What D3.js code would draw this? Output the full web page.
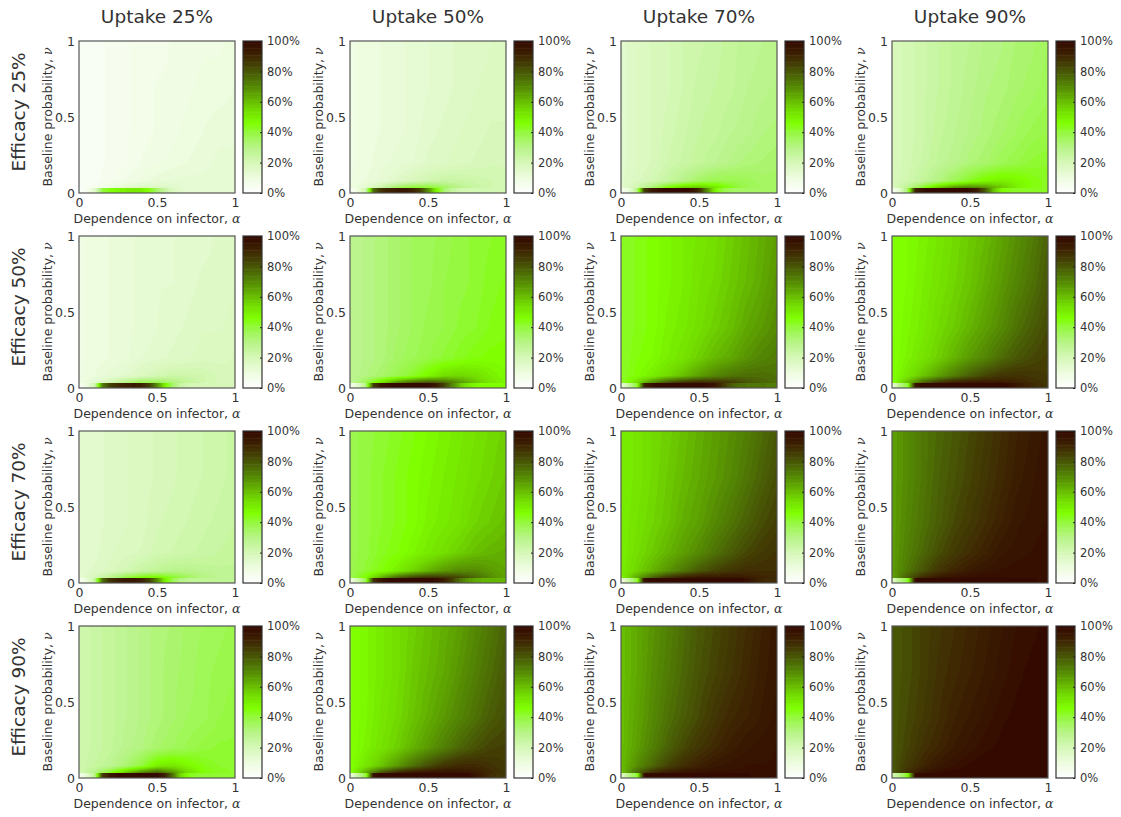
<!DOCTYPE html>
<html>
<head>
<meta charset="utf-8">
<script src="https://cdn.jsdelivr.net/npm/d3@7"></script>
<style>
  body { margin: 0; background: #fff; }
  text { font-family: "DejaVu Sans", sans-serif; fill: #333; }
  .math { font-family: "DejaVu Serif", serif; font-style: italic; }
</style>
</head>
<body>
<svg id="chart" width="1121" height="817"></svg>
<script>
// ---- labels and ticks ----
const efficacyLabels = ["Efficacy 25%", "Efficacy 50%", "Efficacy 70%", "Efficacy 90%"];
const uptakeLabels = ["Uptake 25%", "Uptake 50%", "Uptake 70%", "Uptake 90%"];
const axisTicks = [0, 0.5, 1];
const colorbarTicks = [0, 20, 40, 60, 80, 100];

// ---- grid nodes (dependence on infector α across, baseline probability ν down) ----
const alphaNodes = [0, 0.1, 0.2, 0.3, 0.4, 0.5, 0.6, 0.7, 0.8, 0.9, 1];
const nuNodes = [1.0, 0.7, 0.4, 0.2, 0.08, 0.03];
// the ν = 0 row is its own thin band, sampled more finely in α
const stripAlpha = [0, 0.05, 0.1, 0.15, 0.2, 0.25, 0.3, 0.35, 0.4, 0.45, 0.5,
                    0.55, 0.6, 0.65, 0.7, 0.75, 0.8, 0.85, 0.9, 0.95, 1];
const stripTop = 0.03;

// ---- colormap stops (percent) ----
const cmapStops = [0, 10, 20, 30, 40, 46, 55, 62, 70, 78, 85, 92, 100];
const cmapColors = ["#ffffff", "#eefce0", "#d6f8b8", "#b8f488", "#95f840", "#7fff00",
                    "#72dc00", "#64b400", "#558a04", "#4a6206", "#433e04", "#3c2002", "#330800"];
const cmapLevels = 64;

// ---- percentage values, rows follow nuNodes, columns follow alphaNodes ----
// Efficacy 25%
const field_e25_u25 = [
  [3, 4, 5, 6, 7, 7, 8, 8, 9, 9, 10],
  [3, 4, 5, 6, 7, 8, 8, 9, 10, 10, 11],
  [3, 4, 5, 6, 7, 8, 9, 10, 11, 12, 12],
  [3, 4, 5, 6, 8, 9, 10, 11, 12, 13, 13],
  [3, 4, 6, 8, 10, 12, 13, 13, 13, 13, 13],
  [3, 6, 10, 15, 18, 18, 16, 14, 13, 13, 13]];
const strip_e25_u25 = [2, 5, 15, 40, 45, 48, 50, 50, 50, 45, 35, 25, 18, 15, 13, 13, 13, 13, 13, 13, 13];

const field_e25_u50 = [
  [9, 10, 11, 12, 13, 14, 15, 16, 16, 17, 18],
  [9, 10, 11, 12, 13, 14, 15, 16, 17, 18, 18],
  [9, 10, 11, 12, 13, 15, 16, 17, 18, 19, 19],
  [9, 10, 12, 13, 14, 16, 17, 18, 19, 20, 20],
  [9, 11, 13, 16, 19, 22, 24, 24, 23, 22, 21],
  [9, 15, 25, 38, 45, 45, 38, 30, 25, 22, 21]];
const strip_e25_u50 = [3, 10, 22, 75, 88, 92, 94, 95, 92, 85, 70, 50, 35, 26, 22, 21, 21, 21, 21, 21, 21];

const field_e25_u70 = [
  [15, 17, 19, 20, 22, 23, 24, 26, 27, 28, 29],
  [15, 17, 19, 20, 22, 24, 25, 26, 28, 29, 30],
  [15, 17, 19, 21, 23, 25, 26, 28, 29, 31, 32],
  [15, 17, 19, 22, 24, 26, 28, 30, 32, 33, 34],
  [15, 18, 21, 25, 30, 35, 38, 38, 37, 35, 35],
  [14, 22, 35, 50, 60, 62, 55, 45, 38, 36, 35]];
const strip_e25_u70 = [5, 12, 28, 85, 95, 98, 100, 100, 100, 98, 90, 70, 50, 40, 36, 35, 35, 35, 35, 35, 35];

const field_e25_u90 = [
  [19, 21, 23, 25, 27, 28, 30, 31, 33, 34, 36],
  [19, 21, 23, 25, 27, 29, 31, 32, 34, 35, 37],
  [19, 21, 23, 26, 28, 30, 32, 34, 36, 38, 39],
  [19, 21, 24, 27, 29, 32, 34, 37, 39, 41, 42],
  [19, 22, 26, 31, 37, 43, 48, 50, 48, 45, 43],
  [18, 28, 45, 62, 72, 75, 70, 60, 50, 45, 43]];
const strip_e25_u90 = [5, 15, 35, 92, 98, 100, 100, 100, 100, 100, 98, 92, 78, 60, 48, 44, 43, 43, 43, 43, 43];

// Efficacy 50%
const field_e50_u25 = [
  [9, 10, 11, 12, 13, 13, 14, 15, 15, 16, 16],
  [9, 10, 11, 12, 13, 14, 14, 15, 16, 16, 17],
  [9, 10, 11, 12, 13, 14, 15, 16, 17, 17, 18],
  [9, 10, 11, 12, 14, 15, 16, 17, 18, 18, 19],
  [9, 11, 13, 15, 18, 21, 23, 23, 22, 20, 19],
  [9, 14, 22, 33, 40, 40, 34, 27, 22, 20, 19]];
const strip_e50_u25 = [3, 10, 22, 72, 85, 90, 93, 94, 92, 85, 70, 50, 35, 25, 21, 20, 20, 20, 20, 20, 20];

const field_e50_u50 = [
  [28, 30, 32, 34, 36, 37, 38, 40, 41, 42, 43],
  [28, 30, 32, 34, 36, 37, 39, 40, 41, 43, 44],
  [28, 30, 32, 34, 36, 38, 39, 41, 42, 44, 45],
  [28, 30, 32, 35, 37, 39, 41, 43, 45, 46, 46],
  [28, 31, 34, 38, 42, 48, 54, 56, 54, 50, 47],
  [27, 38, 55, 72, 82, 86, 80, 70, 60, 52, 48]];
const strip_e50_u50 = [5, 15, 30, 85, 95, 98, 100, 100, 100, 100, 99, 95, 85, 72, 60, 52, 48, 46, 46, 46, 46];

const field_e50_u70 = [
  [42, 44, 46, 48, 50, 52, 54, 57, 60, 63, 66],
  [42, 44, 46, 48, 50, 53, 55, 58, 61, 64, 68],
  [42, 44, 46, 49, 51, 54, 57, 60, 64, 67, 70],
  [42, 45, 47, 50, 53, 57, 61, 64, 68, 71, 73],
  [42, 46, 50, 55, 60, 66, 71, 74, 76, 76, 75],
  [41, 55, 72, 85, 92, 94, 92, 88, 82, 78, 76]];
const strip_e50_u70 = [10, 25, 40, 92, 98, 100, 100, 100, 100, 100, 100, 98, 95, 88, 80, 76, 75, 74, 74, 73, 73];

const field_e50_u90 = [
  [45, 47, 49, 52, 55, 58, 61, 65, 69, 73, 78],
  [45, 47, 50, 53, 56, 59, 63, 67, 71, 75, 80],
  [45, 48, 51, 55, 58, 62, 66, 70, 75, 79, 83],
  [45, 49, 53, 57, 62, 67, 71, 76, 80, 83, 85],
  [45, 52, 59, 66, 73, 79, 84, 87, 88, 87, 86],
  [44, 62, 80, 90, 95, 96, 96, 95, 92, 89, 87]];
const strip_e50_u90 = [10, 30, 42, 95, 100, 100, 100, 100, 100, 100, 100, 100, 100, 100, 100, 98, 95, 92, 90, 88, 87];

// Efficacy 70%
const field_e70_u25 = [
  [14, 15, 16, 17, 18, 19, 20, 21, 22, 23, 24],
  [14, 15, 16, 17, 18, 19, 20, 21, 22, 23, 24],
  [14, 15, 16, 17, 18, 20, 21, 22, 23, 24, 25],
  [14, 15, 17, 18, 19, 21, 22, 23, 24, 25, 26],
  [14, 16, 18, 21, 24, 27, 29, 29, 28, 27, 27],
  [13, 20, 30, 42, 50, 52, 45, 37, 31, 28, 27]];
const strip_e70_u25 = [5, 12, 25, 75, 88, 92, 95, 95, 92, 85, 70, 50, 38, 31, 28, 27, 27, 27, 27, 27, 27];

const field_e70_u50 = [
  [38, 40, 41, 43, 45, 47, 49, 51, 53, 55, 57],
  [38, 40, 42, 44, 46, 48, 50, 52, 54, 56, 58],
  [38, 40, 42, 44, 46, 49, 51, 53, 56, 58, 60],
  [38, 40, 43, 45, 48, 51, 54, 57, 60, 62, 63],
  [38, 41, 45, 50, 56, 62, 67, 70, 70, 67, 64],
  [37, 48, 65, 80, 88, 92, 90, 85, 78, 70, 65]];
const strip_e70_u50 = [8, 22, 38, 88, 96, 99, 100, 100, 100, 100, 100, 98, 94, 86, 76, 68, 64, 62, 62, 62, 62];

const field_e70_u70 = [
  [50, 52, 55, 57, 60, 63, 66, 69, 72, 76, 80],
  [50, 52, 55, 58, 61, 64, 67, 70, 74, 78, 82],
  [50, 53, 56, 59, 63, 66, 70, 74, 78, 82, 85],
  [50, 54, 58, 62, 66, 70, 75, 79, 83, 86, 88],
  [50, 56, 62, 68, 74, 80, 84, 87, 89, 89, 89],
  [48, 65, 80, 90, 95, 97, 97, 96, 94, 92, 90]];
const strip_e70_u70 = [10, 25, 40, 97, 100, 100, 100, 100, 100, 100, 100, 100, 100, 100, 100, 100, 98, 94, 91, 90, 89];

const field_e70_u90 = [
  [66, 70, 74, 77, 80, 83, 86, 89, 92, 94, 96],
  [66, 70, 74, 78, 81, 84, 87, 90, 93, 95, 97],
  [66, 71, 75, 79, 83, 86, 89, 92, 95, 96, 97],
  [66, 72, 77, 82, 86, 89, 92, 95, 96, 97, 98],
  [66, 74, 81, 87, 91, 94, 96, 97, 98, 98, 98],
  [64, 80, 91, 96, 98, 99, 99, 99, 98, 98, 98]];
const strip_e70_u90 = [15, 30, 42, 98, 100, 100, 100, 100, 100, 100, 100, 100, 100, 100, 100, 100, 100, 99, 99, 98, 98];

// Efficacy 90%
const field_e90_u25 = [
  [22, 24, 26, 28, 30, 32, 33, 35, 36, 37, 38],
  [22, 24, 26, 28, 30, 32, 34, 35, 37, 38, 39],
  [22, 24, 26, 28, 30, 32, 34, 36, 37, 39, 40],
  [22, 24, 26, 29, 31, 34, 36, 38, 40, 41, 41],
  [22, 25, 28, 33, 40, 50, 52, 48, 44, 42, 42],
  [21, 30, 45, 62, 75, 82, 70, 55, 46, 43, 42]];
const strip_e90_u25 = [5, 15, 28, 85, 95, 99, 100, 100, 100, 100, 100, 92, 75, 55, 45, 42, 42, 42, 42, 42, 42];

const field_e90_u50 = [
  [45, 48, 51, 54, 57, 60, 63, 66, 70, 74, 78],
  [45, 48, 51, 54, 58, 61, 64, 68, 72, 76, 80],
  [45, 48, 52, 55, 59, 63, 67, 71, 75, 79, 82],
  [45, 49, 53, 57, 62, 67, 72, 77, 81, 84, 85],
  [45, 52, 59, 67, 75, 82, 87, 90, 90, 88, 86],
  [44, 65, 83, 93, 97, 98, 98, 97, 94, 90, 87]];
const strip_e90_u50 = [10, 25, 40, 96, 100, 100, 100, 100, 100, 100, 100, 100, 100, 100, 100, 100, 96, 92, 89, 87, 86];

const field_e90_u70 = [
  [60, 64, 68, 72, 76, 80, 83, 86, 89, 92, 95],
  [60, 64, 69, 73, 77, 81, 84, 87, 90, 93, 95],
  [60, 65, 70, 75, 79, 83, 87, 90, 92, 94, 96],
  [60, 66, 72, 78, 83, 87, 90, 93, 95, 96, 97],
  [60, 69, 77, 84, 89, 92, 95, 96, 97, 97, 97],
  [58, 78, 90, 95, 97, 98, 98, 98, 97, 97, 97]];
const strip_e90_u70 = [15, 30, 40, 98, 100, 100, 100, 100, 100, 100, 100, 100, 100, 100, 100, 100, 99, 98, 98, 97, 97];

const field_e90_u90 = [
  [80, 82, 85, 87, 89, 91, 93, 95, 97, 98, 99],
  [80, 82, 85, 88, 90, 92, 94, 96, 98, 99, 99],
  [80, 83, 86, 89, 92, 94, 96, 98, 99, 99, 100],
  [80, 84, 88, 91, 94, 96, 98, 99, 100, 100, 100],
  [80, 86, 91, 95, 97, 99, 100, 100, 100, 100, 100],
  [78, 90, 96, 99, 100, 100, 100, 100, 100, 100, 100]];
const strip_e90_u90 = [20, 30, 45, 99, 100, 100, 100, 100, 100, 100, 100, 100, 100, 100, 100, 100, 100, 100, 100, 100, 100];

const panelGrid = [
  [[field_e25_u25, strip_e25_u25], [field_e25_u50, strip_e25_u50], [field_e25_u70, strip_e25_u70], [field_e25_u90, strip_e25_u90]],
  [[field_e50_u25, strip_e50_u25], [field_e50_u50, strip_e50_u50], [field_e50_u70, strip_e50_u70], [field_e50_u90, strip_e50_u90]],
  [[field_e70_u25, strip_e70_u25], [field_e70_u50, strip_e70_u50], [field_e70_u70, strip_e70_u70], [field_e70_u90, strip_e70_u90]],
  [[field_e90_u25, strip_e90_u25], [field_e90_u50, strip_e90_u50], [field_e90_u70, strip_e90_u70], [field_e90_u90, strip_e90_u90]]
];

// ---- layout ----
const W = 156, H = 152;
const colX = d3.scaleLinear().domain([0, 1]).range([79, 350]);   // plot left edges, step per column
const rowY = d3.scaleLinear().domain([0, 1]).range([41, 236]);   // plot top edges, step per row
const cbGap = 8, cbW = 19;

const svg = d3.select("#chart");

// quantized colormap
const cmap = d3.scaleLinear().domain(cmapStops).range(cmapColors).interpolate(d3.interpolateRgb).clamp(true);
const levelOf = v => Math.max(0, Math.min(cmapLevels - 1, Math.floor(v / 100 * cmapLevels)));
const levelColors = d3.range(cmapLevels).map(i => d3.rgb(cmap((i + 0.5) / cmapLevels * 100)));

// value at (α, ν): the ν = 0 band uses its own α profile, the rest is shaded between grid nodes
function valueSampler(field, strip) {
  const stripScale = d3.scaleLinear().domain(stripAlpha).range(strip).clamp(true);
  const rowScales = field.map(row => d3.scaleLinear().domain(alphaNodes).range(row).clamp(true));
  return (a, n) => {
    if (n < stripTop) return stripScale(a);
    const col = rowScales.map(s => s(a));
    return d3.scaleLinear().domain(nuNodes).range(col).clamp(true)(n);
  };
}

panelGrid.forEach((rowPanels, r) => {
  rowPanels.forEach(([field, strip], c) => {
    const left = colX(c), top = rowY(r);
    const g = svg.append("g").attr("transform", `translate(${left},${top})`);
    const x = d3.scaleLinear().domain([0, 1]).range([0, W]);
    const y = d3.scaleLinear().domain([0, 1]).range([H, 0]);
    const sample = valueSampler(field, strip);

    const canvas = document.createElement("canvas");
    canvas.width = W; canvas.height = H;
    const ctx = canvas.getContext("2d");
    const img = ctx.createImageData(W, H);
    for (let py = 0; py < H; py++) {
      const n = y.invert(py + 0.5);
      for (let px = 0; px < W; px++) {
        const a = x.invert(px + 0.5);
        const col = levelColors[levelOf(sample(a, n))];
        const k = (py * W + px) * 4;
        img.data[k] = col.r; img.data[k + 1] = col.g; img.data[k + 2] = col.b; img.data[k + 3] = 255;
      }
    }
    ctx.putImageData(img, 0, 0);
    g.append("image")
      .attr("href", canvas.toDataURL())
      .attr("width", W).attr("height", H)
      .attr("preserveAspectRatio", "none");

    g.append("rect").attr("width", W).attr("height", H)
      .attr("fill", "none").attr("stroke", "#555").attr("stroke-width", 1.2);

    // axes
    const xa = g.append("g").attr("transform", `translate(0,${H})`)
      .call(d3.axisBottom(x).tickValues(axisTicks).tickSize(0).tickPadding(5).tickFormat(d3.format("~g")));
    const ya = g.append("g")
      .call(d3.axisLeft(y).tickValues(axisTicks).tickSize(0).tickPadding(4).tickFormat(d3.format("~g")));
    [xa, ya].forEach(ax => {
      ax.select(".domain").remove();
      ax.selectAll("text").attr("font-size", 12.5).attr("fill", "#333")
        .attr("font-family", "DejaVu Sans, sans-serif");
    });

    const xl = g.append("text").attr("x", W / 2).attr("y", H + 30)
      .attr("text-anchor", "middle").attr("font-size", 12.5);
    xl.append("tspan").text("Dependence on infector, ");
    xl.append("tspan").attr("class", "math").text("α");

    const yl = g.append("text").attr("transform", `translate(-27,${H / 2}) rotate(-90)`)
      .attr("text-anchor", "middle").attr("font-size", 12.5);
    yl.append("tspan").text("Baseline probability, ");
    yl.append("tspan").attr("class", "math").text("ν");

    // colorbar
    const cb = d3.scaleLinear().domain([0, 100]).range([H, 0]);
    const cg = g.append("g").attr("transform", `translate(${W + cbGap},0)`);
    cg.selectAll("rect.lv").data(levelColors).join("rect")
      .attr("class", "lv")
      .attr("x", 0).attr("width", cbW)
      .attr("y", (d, i) => cb((i + 1) / cmapLevels * 100))
      .attr("height", (d, i) => cb(i / cmapLevels * 100) - cb((i + 1) / cmapLevels * 100) + 0.5)
      .attr("fill", d => d.formatHex());
    cg.append("rect").attr("width", cbW).attr("height", H)
      .attr("fill", "none").attr("stroke", "#333").attr("stroke-width", 1.2);
    const ca = cg.append("g").attr("transform", `translate(${cbW},0)`)
      .call(d3.axisRight(cb).tickValues(colorbarTicks).tickSize(-2).tickPadding(5).tickFormat(d => d + "%"));
    ca.select(".domain").remove();
    ca.selectAll("line").attr("stroke", "#222");
    ca.selectAll("text").attr("font-size", 11.5).attr("fill", "#333")
      .attr("font-family", "DejaVu Sans, sans-serif");
  });
});

// column and row headings
svg.selectAll("text.col-title").data(uptakeLabels).join("text")
  .attr("class", "col-title")
  .attr("x", (d, i) => colX(i) + W / 2).attr("y", 23)
  .attr("text-anchor", "middle").attr("font-size", 18.5)
  .text(d => d);

svg.selectAll("text.row-title").data(efficacyLabels).join("text")
  .attr("class", "row-title")
  .attr("transform", (d, i) => `translate(25,${rowY(i) + H / 2 - 5}) rotate(-90)`)
  .attr("text-anchor", "middle").attr("font-size", 18.5)
  .text(d => d);
</script>
</body>
</html>
